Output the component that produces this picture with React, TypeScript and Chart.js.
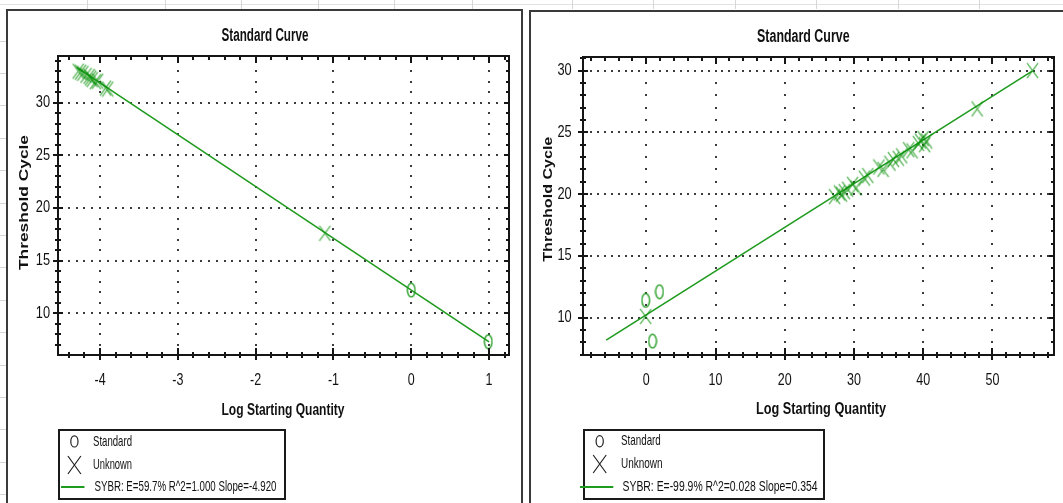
import React, { useEffect, useRef } from "react";
import { Chart, registerables } from "chart.js";
Chart.register(...registerables);

// ---------- Left chart data ----------
const leftUnknownX = [-4.28, -4.25, -4.22, -4.18, -4.14, -4.12, -4.1, -4.06, -4.03, -3.93, -3.9, -1.11];
const leftUnknownY = [33.0, 32.9, 32.8, 32.6, 32.5, 32.35, 32.2, 32.0, 32.05, 31.4, 31.3, 17.6];
const leftStandardX = [0.0, 0.99];
const leftStandardY = [12.2, 7.3];
const leftFitX = [-4.3, 1.0];
const leftFitY = [33.36, 7.28];
const leftXTicks = [-4, -3, -2, -1, 0, 1];
const leftYTicks = [10, 15, 20, 25, 30];
const leftLegendText = "SYBR: E=59.7% R^2=1.000 Slope=-4.920";

// ---------- Right chart data ----------
const rightUnknownX = [-0.1, 27.2, 27.9, 28.2, 28.6, 29.1, 29.8, 30.3, 31.5, 32.0, 33.6, 34.2, 35.2, 35.7, 36.4, 36.9, 37.9, 38.4, 39.3, 39.6, 40.0, 40.2, 40.5, 47.8, 55.8];
const rightUnknownY = [10.1, 19.8, 20.1, 20.0, 20.2, 20.4, 20.8, 20.5, 21.3, 21.5, 22.2, 22.0, 22.5, 22.8, 22.9, 23.1, 23.6, 23.5, 24.1, 24.3, 24.5, 24.0, 24.3, 26.9, 30.0];
const rightStandardX = [-0.1, 1.9, 0.9];
const rightStandardY = [11.4, 12.1, 8.1];
const rightFitX = [-5.8, 55.8];
const rightFitY = [8.18, 29.98];
const rightXTicks = [0, 10, 20, 30, 40, 50];
const rightYTicks = [10, 15, 20, 25, 30];
const rightLegendText = "SYBR: E=-99.9% R^2=0.028 Slope=0.354";

const chartTitle = "Standard Curve";
const xAxisTitle = "Log Starting Quantity";
const yAxisTitle = "Threshold Cycle";
const legendLabels = ["Standard", "Unknown"];

const FONT = '"Liberation Sans", Arial, sans-serif';

type PanelCfg = {
  offsetX: number; width: number; height: number;
  padding: { left: number; top: number; right: number; bottom: number };
  xMin: number; xMax: number; yMin: number; yMax: number;
  xTicks: number[]; yTicks: number[]; xMinor: number; yMinor: number; xDot: number; yDot: number;
  unknownX: number[]; unknownY: number[]; standardX: number[]; standardY: number[]; fitX: number[]; fitY: number[];
  titlePos: [number, number, number];
  xTitlePos: [number, number, number];
  yTitlePos: [number, number, number];
  xLabelY: number; yLabelRight: number;
  legendBox: [number, number, number, number];
  legendRows: [number, number, number];
  legendSymX: number; legendTextX: number;
  legendWidths: [number, number, number];
  legendLine: [number, number];
  legendText: string;
};

const leftCfg: PanelCfg = {
  offsetX: 0, width: 523, height: 503,
  padding: { left: 58, top: 56, right: 14, bottom: 148 },
  xMin: -4.54, xMax: 1.256, yMin: 6.04, yMax: 34.44,
  xTicks: leftXTicks, yTicks: leftYTicks, xMinor: 0.2, yMinor: 1, xDot: 0.1, yDot: 1,
  unknownX: leftUnknownX, unknownY: leftUnknownY, standardX: leftStandardX, standardY: leftStandardY,
  fitX: leftFitX, fitY: leftFitY,
  titlePos: [265, 36.5, 87],
  xTitlePos: [283, 410.3, 123],
  yTitlePos: [25, 202.5, 135],
  xLabelY: 381, yLabelRight: 50,
  legendBox: [59, 430, 285, 499],
  legendRows: [441.4, 465, 487],
  legendSymX: 74.4, legendTextX: 93,
  legendWidths: [39, 39, 182],
  legendLine: [61, 84.5],
  legendText: leftLegendText,
};

const rightCfg: PanelCfg = {
  offsetX: 530, width: 533, height: 503,
  padding: { left: 53, top: 57, right: 2, bottom: 148 },
  xMin: -9.15, xMax: 58.9, yMin: 6.98, yMax: 31.1,
  xTicks: rightXTicks, yTicks: rightYTicks, xMinor: 2, yMinor: 1, xDot: 1, yDot: 1,
  unknownX: rightUnknownX, unknownY: rightUnknownY, standardX: rightStandardX, standardY: rightStandardY,
  fitX: rightFitX, fitY: rightFitY,
  titlePos: [803.3, 37.4, 92.5],
  xTitlePos: [821, 409.7, 130],
  yTitlePos: [548.3, 199.2, 125],
  xLabelY: 381, yLabelRight: 571.7,
  legendBox: [584, 430, 824, 499],
  legendRows: [441.3, 464, 486.8],
  legendSymX: 599.7, legendTextX: 621,
  legendWidths: [39.8, 41.5, 195],
  legendLine: [580, 613.3],
  legendText: rightLegendText,
};

function makeXImage(w: number, h: number, color: string, lw: number) {
  const c = document.createElement("canvas");
  c.width = w; c.height = h;
  const g = c.getContext("2d")!;
  g.strokeStyle = color; g.lineWidth = lw;
  g.beginPath();
  g.moveTo(1, 1); g.lineTo(w - 1, h - 1);
  g.moveTo(w - 1, 1); g.lineTo(1, h - 1);
  g.stroke();
  return c;
}

function makeEllipseImage(w: number, h: number, color: string, lw: number) {
  const c = document.createElement("canvas");
  c.width = w; c.height = h;
  const g = c.getContext("2d")!;
  g.strokeStyle = color; g.lineWidth = lw;
  g.beginPath();
  g.ellipse(w / 2, h / 2, w / 2 - 1.2, h / 2 - 1.2, 0, 0, Math.PI * 2);
  g.stroke();
  return c;
}

function fitText(ctx: CanvasRenderingContext2D, text: string, x: number, y: number, font: string, targetW: number, align: CanvasTextAlign) {
  ctx.save();
  ctx.font = font;
  const w = ctx.measureText(text).width;
  const sx = targetW / w;
  ctx.translate(x, y);
  ctx.scale(sx, 1);
  ctx.textAlign = align;
  ctx.textBaseline = "middle";
  ctx.fillText(text, 0, 0);
  ctx.restore();
}

function scaledText(ctx: CanvasRenderingContext2D, text: string, x: number, y: number, font: string, sx: number, align: CanvasTextAlign) {
  ctx.save();
  ctx.font = font;
  ctx.translate(x, y);
  ctx.scale(sx, 1);
  ctx.textAlign = align;
  ctx.textBaseline = "middle";
  ctx.fillText(text, 0, 0);
  ctx.restore();
}

function makePlugin(cfg: PanelCfg) {
  const ox = cfg.offsetX;
  const near = (v: number, arr: number[]) => arr.some((t) => Math.abs(t - v) < 1e-6);
  return {
    id: "bioradFrame",
    beforeDatasetsDraw(chart: any) {
      const ctx: CanvasRenderingContext2D = chart.ctx;
      const xs = chart.scales.x, ys = chart.scales.y;
      ctx.save();
      ctx.fillStyle = "#3c3c3c";
      const nx0 = Math.ceil(cfg.xMin / cfg.xDot), nx1 = Math.floor(cfg.xMax / cfg.xDot);
      const ny0 = Math.ceil(cfg.yMin / cfg.yDot), ny1 = Math.floor(cfg.yMax / cfg.yDot);
      for (const t of cfg.yTicks) {
        const py = Math.round(ys.getPixelForValue(t));
        for (let n = nx0; n <= nx1; n++) {
          const px = Math.round(xs.getPixelForValue(n * cfg.xDot));
          ctx.fillRect(px - 1, py - 1, 2, 2);
        }
      }
      for (const t of cfg.xTicks) {
        const px = Math.round(xs.getPixelForValue(t));
        for (let n = ny0; n <= ny1; n++) {
          const py = Math.round(ys.getPixelForValue(n * cfg.yDot));
          ctx.fillRect(px - 1, py - 1, 2, 2);
        }
      }
      ctx.restore();
    },
    afterDraw(chart: any) {
      const ctx: CanvasRenderingContext2D = chart.ctx;
      const a = chart.chartArea;
      const xs = chart.scales.x, ys = chart.scales.y;
      ctx.save();
      // frame
      ctx.strokeStyle = "#151515";
      ctx.lineWidth = 2;
      ctx.strokeRect(a.left, a.top, a.right - a.left, a.bottom - a.top);
      // ticks
      ctx.beginPath();
      const nx0 = Math.ceil(cfg.xMin / cfg.xMinor), nx1 = Math.floor(cfg.xMax / cfg.xMinor);
      for (let n = nx0; n <= nx1; n++) {
        const v = n * cfg.xMinor;
        const px = Math.round(xs.getPixelForValue(v));
        const major = near(v, cfg.xTicks);
        ctx.moveTo(px, a.bottom - (major ? 7 : 3)); ctx.lineTo(px, a.bottom + (major ? 5 : 3));
        ctx.moveTo(px, a.top); ctx.lineTo(px, a.top + (major ? 7 : 4));
      }
      const ny0 = Math.ceil(cfg.yMin / cfg.yMinor), ny1 = Math.floor(cfg.yMax / cfg.yMinor);
      for (let n = ny0; n <= ny1; n++) {
        const v = n * cfg.yMinor;
        const py = Math.round(ys.getPixelForValue(v));
        const major = near(v, cfg.yTicks);
        ctx.moveTo(a.left - (major ? 5 : 3), py); ctx.lineTo(a.left + (major ? 5 : 3), py);
        ctx.moveTo(a.right - (major ? 5 : 3), py); ctx.lineTo(a.right, py);
      }
      ctx.stroke();

      // labels
      ctx.fillStyle = "#111";
      const tickFont = `16px ${FONT}`;
      for (const t of cfg.xTicks) {
        scaledText(ctx, String(t), xs.getPixelForValue(t), cfg.xLabelY, tickFont, 0.78, "center");
      }
      for (const t of cfg.yTicks) {
        scaledText(ctx, String(t), cfg.yLabelRight - ox, ys.getPixelForValue(t), tickFont, 0.8, "right");
      }
      // titles
      fitText(ctx, chartTitle, cfg.titlePos[0] - ox, cfg.titlePos[1], `bold 18px ${FONT}`, cfg.titlePos[2], "center");
      fitText(ctx, xAxisTitle, cfg.xTitlePos[0] - ox, cfg.xTitlePos[1], `bold 16px ${FONT}`, cfg.xTitlePos[2], "center");
      // y title (rotated)
      ctx.save();
      ctx.font = `bold 17px ${FONT}`;
      const yw = ctx.measureText(yAxisTitle).width;
      ctx.translate(cfg.yTitlePos[0] - ox, cfg.yTitlePos[1]);
      ctx.scale(0.72, 1);
      ctx.rotate(-Math.PI / 2);
      ctx.scale(cfg.yTitlePos[2] / yw, 1);
      ctx.textAlign = "center";
      ctx.textBaseline = "middle";
      ctx.fillText(yAxisTitle, 0, 0);
      ctx.restore();

      // legend
      const [bx1, by1, bx2, by2] = cfg.legendBox;
      ctx.strokeStyle = "#1a1a1a";
      ctx.lineWidth = 2;
      ctx.strokeRect(bx1 - ox, by1, bx2 - bx1, by2 - by1);
      const sx = cfg.legendSymX - ox;
      const [r1, r2, r3] = cfg.legendRows;
      ctx.lineWidth = 1.2;
      ctx.strokeStyle = "#222";
      ctx.beginPath();
      ctx.ellipse(sx, r1, 3.6, 5.6, 0, 0, Math.PI * 2);
      ctx.stroke();
      ctx.beginPath();
      ctx.moveTo(sx - 6.5, r2 - 9); ctx.lineTo(sx + 6.5, r2 + 9);
      ctx.moveTo(sx + 6.5, r2 - 9); ctx.lineTo(sx - 6.5, r2 + 9);
      ctx.stroke();
      ctx.strokeStyle = "#1f9b1f";
      ctx.lineWidth = 2;
      ctx.beginPath();
      ctx.moveTo(cfg.legendLine[0] - ox, Math.round(r3)); ctx.lineTo(cfg.legendLine[1] - ox, Math.round(r3));
      ctx.stroke();
      ctx.fillStyle = "#111";
      const lf = `15px ${FONT}`;
      fitText(ctx, legendLabels[0], cfg.legendTextX - ox, r1, lf, cfg.legendWidths[0], "left");
      fitText(ctx, legendLabels[1], cfg.legendTextX - ox, r2, lf, cfg.legendWidths[1], "left");
      fitText(ctx, cfg.legendText, cfg.legendTextX + 1.5 - ox, r3, lf, cfg.legendWidths[2], "left");
      ctx.restore();
    },
  };
}

function Panel({ cfg }: { cfg: PanelCfg }) {
  const ref = useRef<HTMLCanvasElement>(null);
  useEffect(() => {
    const xImg = makeXImage(13, 17, "rgba(10,145,10,0.62)", 1.3);
    const eImg = makeEllipseImage(10, 16, "#1f9b1f", 1.3);
    const chart = new Chart(ref.current!, {
      type: "scatter",
      data: {
        datasets: [
          {
            label: "Fit",
            data: cfg.fitX.map((x, i) => ({ x, y: cfg.fitY[i] })),
            showLine: true,
            borderColor: "#1f9b1f",
            borderWidth: 1.6,
            pointRadius: 0,
            order: 2,
          },
          {
            label: "Unknown",
            data: cfg.unknownX.map((x, i) => ({ x, y: cfg.unknownY[i] })),
            pointStyle: xImg as any,
            pointRadius: 8,
            order: 1,
          },
          {
            label: "Standard",
            data: cfg.standardX.map((x, i) => ({ x, y: cfg.standardY[i] })),
            pointStyle: eImg as any,
            pointRadius: 8,
            order: 0,
          },
        ],
      },
      options: {
        animation: false,
        responsive: false,
        devicePixelRatio: 1,
        events: [],
        layout: { padding: cfg.padding },
        scales: {
          x: { type: "linear", min: cfg.xMin, max: cfg.xMax, display: false },
          y: { type: "linear", min: cfg.yMin, max: cfg.yMax, display: false },
        },
        plugins: { legend: { display: false }, tooltip: { enabled: false }, title: { display: false } },
      },
      plugins: [makePlugin(cfg) as any],
    });
    return () => chart.destroy();
  }, [cfg]);
  return (
    <canvas
      ref={ref}
      width={cfg.width}
      height={cfg.height}
      style={{ position: "absolute", left: cfg.offsetX, top: 0, width: cfg.width, height: cfg.height }}
    />
  );
}

const sheetColsLeft = [87, 165, 241, 318, 394, 472];
const sheetColsRight = [572, 653, 735, 816, 898, 979];

export default function App() {
  const rows: number[] = [];
  for (let k = 0; k < 15; k++) rows.push(Math.round(40.6 + 32.4 * k));
  return (
    <div style={{ position: "fixed", left: 0, top: 0, width: 1063, height: 503, background: "#fff", overflow: "hidden" }}>
      <div style={{ position: "absolute", left: 0, top: 4, width: 1063, height: 1, background: "#e2e2e2" }} />
      {[...sheetColsLeft, ...sheetColsRight].map((x) => (
        <div key={"c" + x} style={{ position: "absolute", left: x, top: 0, width: 1, height: 9, background: "#d6d6d6" }} />
      ))}
      {rows.map((y) => (
        <div key={"r" + y} style={{ position: "absolute", left: 0, top: y, width: 6, height: 1, background: "#d6d6d6" }} />
      ))}
      <div style={{ position: "absolute", left: 6, top: 9, width: 517, height: 520, borderTop: "2px solid #3a3a3a", borderLeft: "2px solid #3a3a3a", borderRight: "2px solid #3a3a3a", boxSizing: "border-box" }} />
      <div style={{ position: "absolute", left: 529, top: 10, width: 600, height: 520, borderTop: "2px solid #3a3a3a", borderLeft: "2px solid #3a3a3a", boxSizing: "border-box" }} />
      <Panel cfg={leftCfg} />
      <Panel cfg={rightCfg} />
    </div>
  );
}
